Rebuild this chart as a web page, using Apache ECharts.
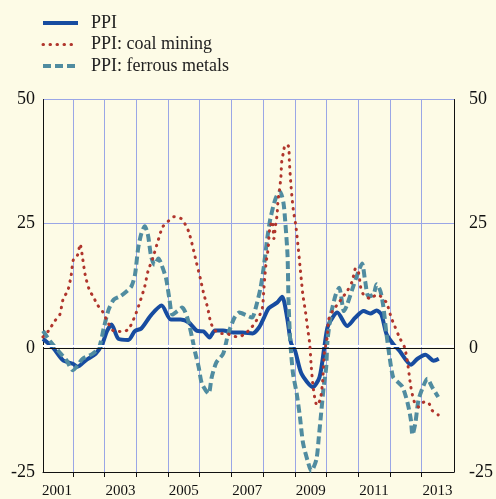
<!DOCTYPE html>
<html>
<head>
    <meta charset="utf-8">
    <title>PPI</title>
    <script src="https://cdn.jsdelivr.net/npm/echarts@6/dist/echarts.min.js"></script>
    <style>
        html, body { margin: 0; padding: 0; background: #fdfbe6; }
        #container { width: 496px; height: 499px; }
    </style>
</head>
<body>
<div id="container"></div>
<script type="text/javascript">
// decimal years
var ppiDates = [2001.06, 2001.38, 2001.69, 2002.00, 2002.15, 2002.41, 2002.72, 2002.93, 2003.08, 2003.22,
    2003.44, 2003.75, 2003.96, 2004.16, 2004.47, 2004.80, 2005.09, 2005.40, 2005.66, 2005.92,
    2006.12, 2006.31, 2006.48, 2006.74, 2007.05, 2007.36, 2007.67, 2007.87, 2008.03, 2008.18,
    2008.44, 2008.60, 2008.76, 2008.88, 2009.01, 2009.21, 2009.57, 2009.78, 2009.93, 2010.03,
    2010.19, 2010.34, 2010.65, 2010.91, 2011.17, 2011.38, 2011.58, 2011.73, 2011.89, 2012.10,
    2012.30, 2012.66, 2012.87, 2013.12, 2013.38, 2013.54];
var ppiValues = [1.8, 0.0, -2.5, -3.2, -3.8, -2.5, -1.2, 0.8, 3.4, 4.7,
    1.8, 1.6, 3.4, 3.9, 6.6, 8.5, 5.7, 5.7, 5.1, 3.4,
    3.3, 2.1, 3.5, 3.5, 3.1, 3.1, 2.9, 4.1, 6.1, 8.0,
    9.1, 10.3, 6.0, 1.0, -0.6, -5.2, -7.9, -5.9, 0.1, 4.1,
    6.1, 7.1, 4.4, 6.1, 7.4, 6.9, 7.5, 6.7, 2.8, 0.8,
    -0.6, -3.4, -2.2, -1.4, -2.6, -2.2];

var coalDates = [2001.06, 2001.23, 2001.43, 2001.59, 2001.69, 2001.85, 2001.95, 2002.02, 2002.15, 2002.23,
    2002.31, 2002.39, 2002.52, 2002.67, 2002.77, 2002.93, 2003.03, 2003.29, 2003.55, 2003.75,
    2003.96, 2004.11, 2004.27, 2004.37, 2004.52, 2004.68, 2004.83, 2005.01, 2005.20, 2005.42,
    2005.55, 2005.66, 2005.78, 2005.89, 2006.02, 2006.12, 2006.25, 2006.35, 2006.48, 2006.69,
    2006.84, 2007.03, 2007.23, 2007.44, 2007.61, 2007.77, 2007.90, 2007.98, 2008.02, 2008.06,
    2008.10, 2008.16, 2008.21, 2008.29, 2008.34, 2008.40, 2008.44, 2008.47, 2008.51, 2008.56,
    2008.59, 2008.64, 2008.70, 2008.80, 2008.83, 2008.88, 2008.95, 2009.03, 2009.11, 2009.16,
    2009.21, 2009.26, 2009.34, 2009.40, 2009.47, 2009.52, 2009.59, 2009.70, 2009.81, 2009.88,
    2009.93, 2010.02, 2010.07, 2010.19, 2010.34, 2010.50, 2010.65, 2010.81, 2010.92, 2011.01,
    2011.08, 2011.17, 2011.39, 2011.58, 2011.70, 2011.89, 2012.04, 2012.15, 2012.30, 2012.46,
    2012.56, 2012.66, 2012.77, 2012.90, 2013.08, 2013.23, 2013.33, 2013.52];
var coalValues = [2.2, 3.4, 5.4, 6.7, 9.7, 11.7, 14.7, 17.8, 18.7, 20.9,
    18.0, 14.7, 11.7, 10.0, 8.7, 7.4, 6.1, 3.4, 3.3, 3.7,
    6.4, 9.1, 12.4, 15.4, 18.0, 21.4, 24.3, 25.5, 26.4, 26.0,
    24.8, 23.3, 20.4, 17.4, 14.0, 11.1, 8.1, 5.1, 3.5, 2.9,
    2.9, 2.4, 2.2, 2.9, 3.9, 5.3, 6.7, 8.1, 11.4, 14.7,
    17.4, 20.0, 24.0, 25.5, 22.0, 25.0, 26.7, 29.6, 31.4, 34.3,
    37.6, 39.3, 40.9, 40.6, 37.3, 32.6, 27.9, 24.7, 20.0, 16.7,
    13.4, 10.4, 7.1, 4.1, 0.8, -3.9, -8.5, -11.6, -10.2, -6.5,
    -1.2, 2.1, 5.7, 7.4, 8.7, 10.1, 11.4, 13.4, 16.0, 15.2,
    12.1, 10.7, 9.9, 10.7, 10.4, 9.1, 6.1, 4.4, 2.1, 0.1,
    -3.2, -7.9, -10.9, -11.9, -10.9, -11.2, -12.6, -13.5];

var ferrousDates = [2001.06, 2001.28, 2001.54, 2001.80, 2002.00, 2002.31, 2002.62, 2002.83, 2002.98, 2003.13,
    2003.29, 2003.50, 2003.70, 2003.85, 2003.96, 2004.06, 2004.16, 2004.27, 2004.37, 2004.47,
    2004.58, 2004.70, 2004.80, 2004.94, 2005.04, 2005.14, 2005.30, 2005.45, 2005.61, 2005.76,
    2005.86, 2005.97, 2006.07, 2006.28, 2006.38, 2006.53, 2006.74, 2006.90, 2007.10, 2007.25,
    2007.46, 2007.65, 2007.77, 2007.92, 2008.03, 2008.13, 2008.23, 2008.39, 2008.53, 2008.64,
    2008.70, 2008.77, 2008.80, 2008.85, 2008.94, 2009.06, 2009.16, 2009.26, 2009.42, 2009.52,
    2009.68, 2009.76, 2009.83, 2009.91, 2009.99, 2010.03, 2010.14, 2010.29, 2010.40, 2010.55,
    2010.65, 2010.86, 2011.01, 2011.12, 2011.22, 2011.32, 2011.48, 2011.58, 2011.70, 2011.79,
    2011.89, 2011.99, 2012.10, 2012.25, 2012.40, 2012.56, 2012.66, 2012.71, 2012.80, 2012.90,
    2013.04, 2013.18, 2013.33, 2013.52];
var ferrousValues = [3.4, 1.4, -0.6, -2.5, -4.5, -2.2, -1.2, 0.1, 4.1, 7.7,
    9.7, 10.4, 11.4, 12.4, 14.7, 20.0, 23.0, 24.5, 22.7, 18.4,
    16.7, 18.0, 16.7, 14.0, 10.1, 6.7, 7.4, 8.1, 6.1, 2.1,
    -1.0, -3.9, -7.2, -9.2, -5.9, -2.9, -1.2, 2.8, 6.1, 7.1,
    6.6, 6.1, 8.1, 12.1, 16.7, 22.0, 26.0, 30.0, 31.5, 29.3,
    25.3, 18.7, 10.0, 2.0, -5.0, -9.2, -13.8, -19.2, -23.1, -24.8,
    -22.5, -17.8, -13.2, -7.9, -3.9, 1.4, 6.7, 10.7, 12.1, 7.4,
    8.7, 12.7, 15.4, 17.0, 13.4, 10.4, 10.7, 12.8, 11.4, 8.4,
    2.8, -1.9, -5.9, -6.9, -7.9, -11.2, -14.5, -17.5, -15.2, -10.5,
    -7.9, -6.2, -7.9, -9.9];

var yearTicks = [2002, 2003, 2004, 2005, 2006, 2007, 2008, 2009, 2010, 2011, 2012, 2013];
var yearLabels = [2001.5, 2003.5, 2005.5, 2007.5, 2009.5, 2011.5, 2013.5];

function pairs(xs, ys) {
    var out = [];
    for (var i = 0; i < xs.length; i++) out.push([xs[i], ys[i]]);
    return out;
}

var serif = '"Liberation Serif", "DejaVu Serif", serif';
var gridBlue = '#9aa6e6';

var dom = document.getElementById("container");
var myChart = echarts.init(dom, null, {renderer: 'canvas'});
var option = {
    backgroundColor: '#fdfbe6',
    animation: false,
    legend: {
        orient: 'vertical',
        left: 41,
        top: 14,
        padding: 0,
        itemWidth: 35,
        itemHeight: 14,
        itemGap: 3.5,
        data: ['PPI', 'PPI: coal mining', 'PPI: ferrous metals'],
        itemStyle: {color: 'rgba(0,0,0,0)', borderColor: 'rgba(0,0,0,0)', borderWidth: 0},
        lineStyle: {width: 'inherit'},
        textStyle: {fontFamily: serif, fontSize: 18, color: '#222', padding: [0, 0, 0, 8]}
    },
    grid: {left: 43, right: 33.5, top: 99.5, bottom: 23, containLabel: false},
    xAxis: {
        type: 'value',
        min: 2001.06,
        max: 2014.02,
        axisLine: {onZero: false, lineStyle: {color: '#111', width: 1}},
        axisTick: {customValues: yearTicks, length: 5, lineStyle: {color: '#111'}},
        axisLabel: {
            customValues: yearLabels,
            formatter: function (v) { return String(Math.floor(v)); },
            fontFamily: serif, fontSize: 15, color: '#111', margin: 12
        },
        splitLine: {show: true, lineStyle: {color: gridBlue, width: 1}}
    },
    yAxis: [{
        type: 'value', position: 'left', min: -25, max: 50, interval: 25,
        axisLine: {show: true, lineStyle: {color: '#111'}},
        axisTick: {show: false},
        axisLabel: {fontFamily: serif, fontSize: 18, color: '#111', margin: 8},
        splitLine: {show: true, lineStyle: {color: gridBlue, width: 1}}
    }, {
        type: 'value', position: 'right', min: -25, max: 50, interval: 25,
        axisLine: {show: true, lineStyle: {color: '#111'}},
        axisTick: {show: false},
        axisLabel: {fontFamily: serif, fontSize: 18, color: '#111', margin: 15},
        splitLine: {show: false}
    }],
    series: [{
        name: 'PPI',
        type: 'line',
        data: pairs(ppiDates, ppiValues),
        symbol: 'none',
        smooth: 0.25,
        z: 3,
        lineStyle: {color: '#174ca0', width: 4},
        itemStyle: {color: '#174ca0'},
        markLine: {
            silent: true,
            symbol: 'none',
            label: {show: false},
            data: [
                {yAxis: 0.35, lineStyle: {color: '#ffffff', width: 2, type: 'solid'}},
                {yAxis: 0, lineStyle: {color: '#111', width: 1, type: 'solid'}}
            ]
        }
    }, {
        name: 'PPI: ferrous metals',
        type: 'line',
        data: pairs(ferrousDates, ferrousValues),
        symbol: 'none',
        smooth: 0.25,
        z: 4,
        lineStyle: {color: '#508ca0', width: 4, type: [8, 4]},
        itemStyle: {color: '#508ca0'}
    }, {
        name: 'PPI: coal mining',
        type: 'line',
        data: pairs(coalDates, coalValues),
        symbol: 'none',
        smooth: 0.25,
        z: 5,
        lineStyle: {color: '#b0352c', width: 3, type: [0.5, 6.5], cap: 'round'},
        itemStyle: {color: '#b0352c'}
    }]
};
myChart.setOption(option, true);
</script>
</body>
</html>
